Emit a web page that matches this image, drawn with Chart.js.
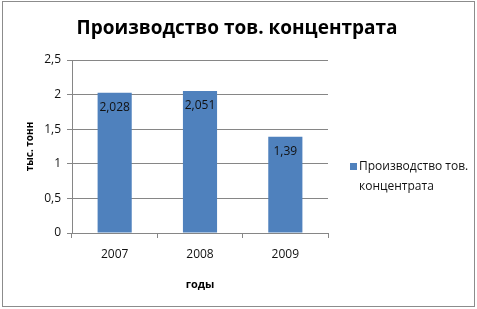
<!DOCTYPE html>
<html><head><meta charset="utf-8">
<script src="https://cdn.jsdelivr.net/npm/chart.js@4/dist/chart.umd.min.js"></script>
<style>html,body{margin:0;padding:0;background:#fff}#wrap{width:477px;height:309px}</style>
</head><body><div id="wrap"><canvas id="c" width="477" height="309"></canvas></div>
<script>
const categories = ['2007', '2008', '2009'];
const values = [2.028, 2.051, 1.39];
const valueLabels = ['2,028', '2,051', '1,39'];
const seriesName = 'Производство тов. концентрата';
const legendLines = ['Производство тов.', 'концентрата'];
const titleText = 'Производство тов. концентрата';
const yTitle = 'тыс. тонн';
const xTitle = 'годы';
const FONT = "'Open Sans', 'Noto Sans', sans-serif";

const framePlugin = {
  id: 'frame',
  beforeDraw(chart) {
    const ctx = chart.ctx;
    ctx.save();
    ctx.fillStyle = '#fff';
    ctx.fillRect(0, 0, chart.width, chart.height);
    ctx.strokeStyle = '#8c8c8c';
    ctx.lineWidth = 1;
    ctx.strokeRect(2.5, 1.5, 472, 305);
    ctx.fillStyle = '#000';
    ctx.font = 'bold 19px ' + FONT;
    ctx.textAlign = 'center';
    ctx.textBaseline = 'middle';
    ctx.fillText(titleText, 237, 29);
    ctx.restore();
  },
  afterDatasetsDraw(chart) {
    const ctx = chart.ctx;
    const meta = chart.getDatasetMeta(0);
    ctx.save();
    ctx.font = '12px ' + FONT;
    ctx.fillStyle = '#111';
    ctx.textAlign = 'center';
    ctx.textBaseline = 'middle';
    meta.data.forEach((bar, i) => {
      ctx.fillText(valueLabels[i], bar.x, bar.y + 15);
    });
    ctx.fillStyle = '#4F81BD';
    ctx.fillRect(350, 163, 7, 7);
    ctx.fillStyle = '#111';
    ctx.textAlign = 'left';
    ctx.fillText(legendLines[0], 359, 167);
    ctx.fillText(legendLines[1], 359, 187);
    ctx.restore();
  }
};

new Chart(document.getElementById('c'), {
  type: 'bar',
  data: {
    labels: categories,
    datasets: [{
      label: seriesName,
      data: values,
      backgroundColor: '#4F81BD',
      borderWidth: 0,
      categoryPercentage: 1,
      barPercentage: 0.4
    }]
  },
  options: {
    responsive: false,
    animation: false,
    devicePixelRatio: 1,
    layout: { padding: { left: 24, right: 149, top: 60, bottom: 18 } },
    plugins: {
      legend: { display: false },
      tooltip: { enabled: false },
      title: { display: false }
    },
    scales: {
      x: {
        grid: { display: true, drawOnChartArea: false, offset: true, tickLength: 5, color: '#868686' },
        border: { color: '#868686' },
        ticks: { color: '#111', font: { family: FONT, size: 12 }, padding: 9 },
        title: { display: true, text: xTitle, color: '#000', font: { family: FONT, size: 11, weight: 'bold' }, padding: { top: 8, bottom: 0 } },
        afterFit(scale) { scale.height = 309 - 233 - 18; }
      },
      y: {
        min: 0, max: 2.5,
        ticks: {
          stepSize: 0.5, color: '#111', font: { family: FONT, size: 12 }, padding: 6,
          callback: v => String(v).replace('.', ',')
        },
        grid: { color: '#868686', tickLength: 5 },
        border: { color: '#868686' },
        title: { display: true, text: yTitle, color: '#000', font: { family: FONT, size: 10, weight: 'bold' }, padding: 0 },
        afterFit(scale) { scale.width = 48; }
      }
    }
  },
  plugins: [framePlugin]
});
</script>
</body></html>
